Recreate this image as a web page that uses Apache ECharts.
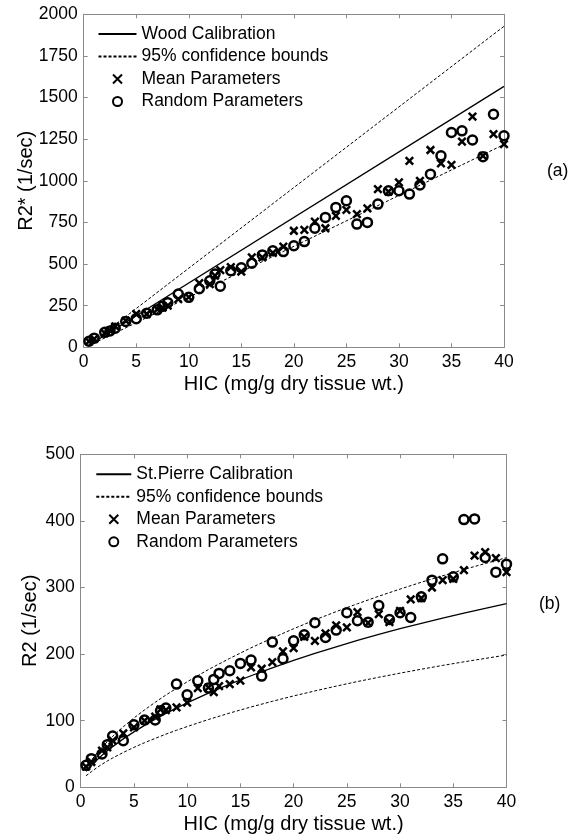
<!DOCTYPE html>
<html>
<head>
<meta charset="utf-8">
<script src="https://cdn.jsdelivr.net/npm/echarts@6/dist/echarts.min.js"></script>
<style>
html,body{margin:0;padding:0;background:#fff;}
#c{width:571px;height:840px;}
</style>
</head>
<body>
<div id="c"></div>
<script>
// ---------- DATA ----------
const hic = [0.5,1,2,2.5,3,4,5,6,7,7.5,8,9,10,11,12,12.5,13,14,15,16,17,18,19,20,21,22,23,24,25,26,27,28,29,30,31,32,33,34,35,36,37,38,39,40];

// Panel (a): R2*
const topMean = [35,50,85,100,125,160,200,200,228,238,250,290,302,385,380,430,463,482,455,540,540,567,605,700,705,755,715,790,825,800,835,950,935,990,1120,1000,1185,1105,1095,1235,1385,1150,1280,1220];
const topRandom = [36,55,90,98,115,155,172,205,225,246,268,320,300,352,400,440,367,460,478,505,555,580,575,610,635,715,780,840,880,740,750,860,940,940,920,975,1040,1150,1290,1300,1245,1145,1400,1270];
const topLineX = [0.5, 40];
const woodCal = [12, 1567];
const woodUpper = [15, 1928];
const woodLower = [10, 1218];

// Panel (b): R2
const botMean = [31,38,55,60,70,81,90,100,106,117,116,120,127,149,150,143,152,155,160,180,178,188,204,209,226,220,231,243,240,263,247,260,248,265,282,284,300,311,313,326,348,353,344,323];
const botRandom = [33,43,50,64,77,70,94,101,101,115,119,155,139,160,149,162,171,175,186,191,167,218,193,220,229,247,225,236,262,250,248,273,252,262,255,286,311,343,316,402,403,345,323,335];
const botLineX = [0.5,1,1.5,2,2.5,3,4,5,6,7,8,9,10,12,14,16,18,20,22,24,26,28,30,32,34,36,38,40];
const stpCal = [24,32.5,40.7,48.1,54.8,61.1,72.7,83.2,93.0,102.1,110.8,118.9,126.7,141.4,154.9,167.5,179.3,190.5,201.0,211.0,220.5,229.5,238.1,246.3,254.1,261.6,268.8,275.8];
const stpUpper = [30,40.6,50.9,60.1,68.5,76.4,90.9,104,116.3,127.6,138.5,148.6,158.4,176.8,193.6,209.4,224.1,238.1,251.3,263.8,275.6,286.9,297.6,307.9,317.6,327,336,344.8];
const stpLower = [17.3,23.4,29.3,34.6,39.5,44,52.3,59.9,67,73.5,79.8,85.6,91.2,101.8,111.5,120.6,129.1,137.2,144.7,151.9,158.8,165.2,171.4,177.3,183,188.4,193.5,198.6];

const xTitle = 'HIC (mg/g dry tissue wt.)';
const topYTitle = 'R2* (1/sec)';
const botYTitle = 'R2 (1/sec)';
const topLegend = ['Wood Calibration','95% confidence bounds','Mean Parameters','Random Parameters'];
const botLegend = ['St.Pierre Calibration','95% confidence bounds','Mean Parameters','Random Parameters'];

// ---------- STYLE ----------
const FONT = '"Liberation Sans", Arial, Helvetica, sans-serif';
const FRAME = '#8a8a8a';
const CROSS = 'path://M0,0L10,10M0,10L10,0';

function pairs(xs, ys){ return xs.map((x,i)=>[x, ys[i]]); }
const plain = v => String(v);

function xAxes(grid){
  return [
    {gridIndex:grid, type:'value', min:0, max:40, interval:5, position:'bottom',
     name:xTitle, nameLocation:'middle', nameGap:27, nameMoveOverlap:false,
     nameTextStyle:{fontFamily:FONT, fontSize:20, color:'#000'},
     axisLine:{show:true, onZero:false, lineStyle:{color:FRAME, width:1}},
     axisTick:{show:true, inside:true, length:4, lineStyle:{color:FRAME}},
     axisLabel:{show:true, margin:6, formatter:plain, fontFamily:FONT, fontSize:17.5, color:'#000', showMinLabel:true, showMaxLabel:true, hideOverlap:false},
     splitLine:{show:false}},
    {gridIndex:grid, type:'value', min:0, max:40, interval:5, position:'top',
     axisLine:{show:true, onZero:false, lineStyle:{color:FRAME, width:1}},
     axisTick:{show:true, inside:true, length:4, lineStyle:{color:FRAME}},
     axisLabel:{show:false}, splitLine:{show:false}}
  ];
}
function yAxes(grid, max, interval, title, gap){
  return [
    {gridIndex:grid, type:'value', min:0, max:max, interval:interval, position:'left',
     name:title, nameLocation:'middle', nameGap:gap, nameRotate:90, nameMoveOverlap:false,
     nameTextStyle:{fontFamily:FONT, fontSize:20, color:'#000'},
     axisLine:{show:true, onZero:false, lineStyle:{color:FRAME, width:1}},
     axisTick:{show:true, inside:true, length:4, lineStyle:{color:FRAME}},
     axisLabel:{show:true, margin:6, formatter:plain, fontFamily:FONT, fontSize:17.5, color:'#000', showMinLabel:true, showMaxLabel:true, hideOverlap:false},
     splitLine:{show:false}},
    {gridIndex:grid, type:'value', min:0, max:max, interval:interval, position:'right',
     axisLine:{show:true, onZero:false, lineStyle:{color:FRAME, width:1}},
     axisTick:{show:true, inside:true, length:4, lineStyle:{color:FRAME}},
     axisLabel:{show:false}, splitLine:{show:false}}
  ];
}

function lineSeries(name, xi, yi, xs, ys, dashed){
  return {name:name, type:'line', xAxisIndex:xi, yAxisIndex:yi, data:pairs(xs, ys),
    showSymbol:false, symbol:'none', smooth:false,
    lineStyle:{color:'#000', width:dashed?1:1.3, type:dashed?[3,2]:'solid'},
    itemStyle:{color:'#000'}, z:2, silent:true, animation:false};
}
function scatterSeries(name, xi, yi, ys, cross){
  return {name:name, type:'scatter', xAxisIndex:xi, yAxisIndex:yi, data:pairs(hic, ys),
    symbol: cross ? CROSS : 'circle', symbolSize: cross ? 7.5 : 9,
    itemStyle:{color:'transparent', borderColor:'#000', borderWidth:2.5, opacity:1},
    z:3, silent:true, animation:false};
}

// line entries: hide the centre symbol, keep the line sample
function legendData(names){
  return names.map((n, i) => i < 2 ? {name:n, itemStyle:{opacity:0}} : {name:n});
}

const chart = echarts.init(document.getElementById('c'), null, {renderer:'canvas'});
chart.setOption({
  backgroundColor:'#fff',
  animation:false,
  textStyle:{fontFamily:FONT},
  grid:[
    {left:83.7, top:14.3, width:420.3, height:333, containLabel:false, outerBoundsMode:'none', show:false},
    {left:80.7, top:454.3, width:425.8, height:333, containLabel:false, outerBoundsMode:'none', show:false}
  ],
  xAxis: xAxes(0).concat(xAxes(1)),
  yAxis: yAxes(0, 2000, 250, topYTitle, 47).concat(yAxes(1, 500, 100, botYTitle, 40)),
  legend:[
    {data:legendData(topLegend), orient:'vertical', left:97.5, top:25, padding:0, itemGap:4.5,
     itemWidth:38, itemHeight:9, selectedMode:false, symbolKeepAspect:true,
     textStyle:{fontFamily:FONT, fontSize:17.5, color:'#000', lineHeight:18}},
    {data:legendData(botLegend), orient:'vertical', left:95.3, top:465.3, padding:0, itemGap:4.5,
     itemWidth:35, itemHeight:9, selectedMode:false, symbolKeepAspect:true,
     textStyle:{fontFamily:FONT, fontSize:17.5, color:'#000', lineHeight:18}}
  ],
  series:[
    lineSeries('Wood Calibration', 0, 0, topLineX, woodCal, false),
    lineSeries('95% confidence bounds', 0, 0, topLineX, woodUpper, true),
    lineSeries('95% confidence bounds', 0, 0, topLineX, woodLower, true),
    scatterSeries('Mean Parameters', 0, 0, topMean, true),
    scatterSeries('Random Parameters', 0, 0, topRandom, false),
    lineSeries('St.Pierre Calibration', 2, 2, botLineX, stpCal, false),
    lineSeries('95% confidence bounds', 2, 2, botLineX, stpUpper, true),
    lineSeries('95% confidence bounds', 2, 2, botLineX, stpLower, true),
    scatterSeries('Mean Parameters', 2, 2, botMean, true),
    scatterSeries('Random Parameters', 2, 2, botRandom, false)
  ],
  graphic:[
    {type:'text', left:547, top:162, style:{text:'(a)', fontFamily:FONT, fontSize:17.5, fill:'#000'}},
    {type:'text', left:539, top:595, style:{text:'(b)', fontFamily:FONT, fontSize:17.5, fill:'#000'}}
  ]
});
</script>
</body>
</html>
